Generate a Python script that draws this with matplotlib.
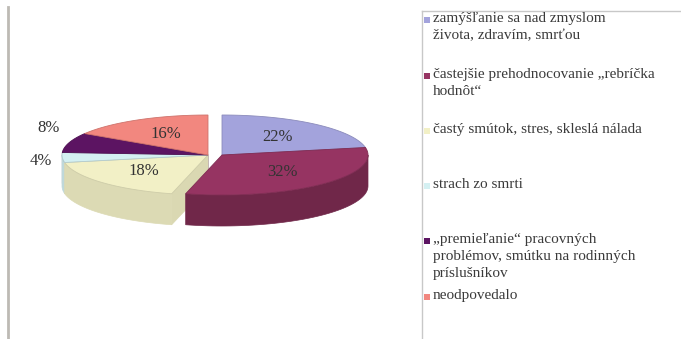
import numpy as np
import matplotlib
matplotlib.use("Agg")
import matplotlib.pyplot as plt
from matplotlib.patches import Polygon, Rectangle

# data
labels = [
    "zamýšľanie sa nad zmyslom\nživota, zdravím, smrťou",
    "častejšie prehodnocovanie „rebríčka\nhodnôt“",
    "častý smútok, stres, skleslá nálada",
    "strach zo smrti",
    "„premieľanie“ pracovných\nproblémov, smútku na rodinných\npríslušníkov",
    "neodpovedalo",
]
values = [22, 32, 18, 4, 8, 16]
colors = ["#a3a3dc", "#963462", "#f2f0c6", "#d4f0f2", "#5c1462", "#f2877f"]

# layout (pixels)
W, H = 681, 339
cx, cy = 215, 155
rx, ry = 146, 40
depth = 31
gap = 7
outside = [False, False, False, True, True, False]

fig = plt.figure(figsize=(W / 100, H / 100), dpi=100)
ax = fig.add_axes([0, 0, 1, 1])
ax.set_xlim(0, W)
ax.set_ylim(H, 0)
ax.axis("off")


def shade(c, f=None):
    r, g, b = matplotlib.colors.to_rgb(c)
    if f is None:
        lum = 0.3 * r + 0.59 * g + 0.11 * b
        f = 0.72 + 0.22 * lum ** 2
    return (r * f, g * f, b * f)


def pt(x0, a, r=1.0, dz=0, ky=None):
    ky = r if ky is None else ky
    return (x0 + r * rx * np.cos(a), cy - ky * ry * np.sin(a) + dz)


# angles: start at top, go clockwise
frac = np.array(values) / sum(values)
ends = np.deg2rad(90) - 2 * np.pi * np.cumsum(frac)
starts = np.concatenate([[np.deg2rad(90)], ends[:-1]])
mids = (starts + ends) / 2
xc = cx + gap * np.sign(np.cos(mids))

faces = []  # (depth key, polygon pts, color)
tops = []
for i in range(len(values)):
    a1, a2 = ends[i], starts[i]  # a1 < a2
    x0 = xc[i]
    arc = np.linspace(a1, a2, 80)
    top = [(x0, cy)] + [pt(x0, a) for a in arc]
    tops.append((top, colors[i]))
    # outer wall, front part only (sin < 0)
    for k in range(-1, 2):
        s = max(a1, np.pi + 2 * np.pi * k)
        e = min(a2, 2 * np.pi + 2 * np.pi * k)
        if e > s:
            w = np.linspace(s, e, 60)
            poly = [pt(x0, a) for a in w] + [pt(x0, a, dz=depth) for a in w[::-1]]
            faces.append((np.sin((s + e) / 2), poly, shade(colors[i])))
    # radial cut faces facing the viewer
    for a, nrm in ((a1, a1 - np.pi / 2), (a2, a2 + np.pi / 2)):
        if np.sin(nrm) < 0:
            poly = [(x0, cy), pt(x0, a), pt(x0, a, dz=depth), (x0, cy + depth)]
            faces.append((np.sin(a) * 0.5 + 0.01, poly, shade(colors[i], 0.9)))

for key, poly, c in sorted(faces, key=lambda f: -f[0]):
    ax.add_patch(Polygon(poly, closed=True, facecolor=c, edgecolor=c, lw=0.5))
for poly, c in tops:
    ax.add_patch(Polygon(poly, closed=True, facecolor=c,
                         edgecolor=shade(c, 0.85), lw=0.6))

for i, v in enumerate(values):
    if outside[i]:
        x, y = pt(xc[i], mids[i], 1.15, ky=2.2)
    else:
        x, y = pt(xc[i], mids[i], 0.6)
    ax.text(x, y, f"{v}%", ha="center", va="center", fontsize=12,
            family="Liberation Serif", color="#333333")

# frames
ax.plot([8, 8], [7, H], color="#bdbab4", lw=2)
ax.plot([422, W], [11, 11], color="#c8c8c8", lw=1)
ax.plot([422, 422], [11, H], color="#c8c8c8", lw=1)

# legend
leg_y = [20, 76, 131, 186, 241, 297]
for lab, c, y in zip(labels, colors, leg_y):
    ax.add_patch(Rectangle((424, y - 3.5), 6, 6, facecolor=c, edgecolor="none"))
    ax.text(433, y - 8, lab, ha="left", va="top", fontsize=11,
            family="Liberation Serif", color="#3a3a3a", linespacing=1.38)

fig.savefig("out.png", dpi=100)
